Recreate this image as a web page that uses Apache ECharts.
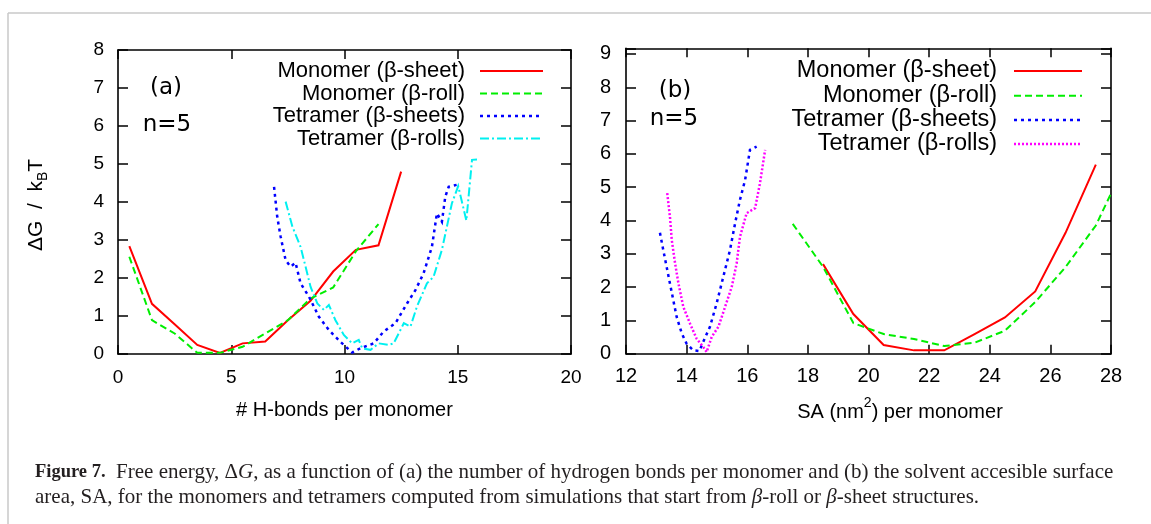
<!DOCTYPE html>
<html>
<head>
<meta charset="utf-8">
<script src="https://cdn.jsdelivr.net/npm/echarts@6/dist/echarts.min.js"></script>
<style>
html,body{margin:0;padding:0;background:#fff;}
#chart{width:1151px;height:524px;}
</style>
</head>
<body>
<div id="chart"></div>
<script>
// ---------- Data ----------
// Panel (a): Delta G vs # H-bonds per monomer
const aRedX   = [0.5, 1.5, 2.5, 3.5, 4.5, 5.5, 6.5, 7.5, 8.5, 9.5, 10.5, 11.5, 12.5];
const aRedY   = [2.84, 1.32, 0.78, 0.24, 0.03, 0.28, 0.33, 0.89, 1.40, 2.17, 2.74, 2.86, 4.80];
const aGreenX = [0.5, 1.5, 2.5, 3.5, 4.5, 5.5, 6.5, 7.5, 8.5, 9.5, 10.5, 11.5];
const aGreenY = [2.56, 0.89, 0.54, 0.03, 0.03, 0.19, 0.54, 0.89, 1.46, 1.75, 2.70, 3.42];
const aBlueX  = [6.89, 7.03, 7.18, 7.40, 7.62, 7.84, 8.06, 8.43, 8.87, 9.31, 9.82, 10.34, 10.70, 11.29, 11.73, 12.25, 12.76, 13.13, 13.49, 13.86, 14.08, 14.30, 14.45, 14.60, 14.95];
const aBlueY  = [4.40, 3.61, 3.09, 2.47, 2.30, 2.40, 1.86, 1.51, 0.98, 0.63, 0.32, 0.04, 0.15, 0.28, 0.59, 0.81, 1.33, 1.68, 2.12, 2.82, 3.70, 3.48, 4.14, 4.40, 4.45];
const aCyanX  = [7.40, 7.70, 8.06, 8.28, 8.50, 8.80, 9.09, 9.31, 9.60, 9.97, 10.34, 10.63, 10.78, 11.15, 11.51, 11.95, 12.17, 12.62, 12.91, 13.20, 13.64, 13.93, 14.30, 14.74, 15.02, 15.38, 15.63, 15.85];
const aCyanY  = [4.01, 3.35, 2.82, 2.30, 1.77, 1.33, 1.16, 1.29, 0.89, 0.50, 0.28, 0.37, 0.15, 0.11, 0.28, 0.24, 0.28, 0.81, 0.72, 1.25, 1.86, 2.03, 2.74, 3.96, 4.42, 3.51, 5.11, 5.12];

// Panel (b): Delta G vs SA per monomer
const bRedX   = [18.5, 19.5, 20.5, 21.5, 22.5, 23.5, 24.5, 25.5, 26.5, 27.5];
const bRedY   = [2.69, 1.19, 0.26, 0.10, 0.10, 0.59, 1.09, 1.87, 3.63, 5.68];
const bGreenX = [17.5, 18.5, 19.5, 20.5, 21.5, 22.5, 23.5, 24.5, 25.5, 26.5, 27.5, 28.0];
const bGreenY = [3.90, 2.61, 0.92, 0.59, 0.44, 0.23, 0.33, 0.69, 1.55, 2.60, 3.85, 4.81];
const bBlueX  = [13.12, 13.23, 13.34, 13.45, 13.56, 13.67, 13.84, 14.00, 14.22, 14.42, 14.55, 14.77, 14.99, 15.21, 15.43, 15.60, 15.76, 15.93, 16.09, 16.31];
const bBlueY  = [3.63, 3.11, 2.61, 2.11, 1.61, 1.11, 0.61, 0.30, 0.10, 0.08, 0.36, 0.81, 1.51, 2.31, 3.11, 3.92, 4.62, 5.22, 6.12, 6.22];
const bMagX   = [13.36, 13.45, 13.51, 13.62, 13.73, 13.89, 14.11, 14.33, 14.55, 14.66, 14.83, 15.05, 15.27, 15.49, 15.65, 15.76, 15.98, 16.26, 16.42, 16.59];
const bMagY   = [4.82, 4.11, 3.41, 2.71, 2.11, 1.41, 0.91, 0.45, 0.20, 0.05, 0.51, 0.81, 1.41, 2.01, 2.71, 3.51, 4.22, 4.37, 5.12, 6.12];

const legendA = ['Monomer (β-sheet)', 'Monomer (β-roll)', 'Tetramer (β-sheets)', 'Tetramer (β-rolls)'];
const legendB = ['Monomer (β-sheet)', 'Monomer (β-roll)', 'Tetramer (β-sheets)', 'Tetramer (β-rolls)'];
const aXTicks = {min: 0, max: 20, interval: 5};
const aYTicks = {min: 0, max: 8, interval: 1};
const bXTicks = {min: 12, max: 28, interval: 2};
const bYTicks = {min: 0, max: 9.17, interval: 1};

// ---------- Styles ----------
const RED = '#ff0000', GREEN = '#00ee00', BLUE = '#0000ff', CYAN = '#00f0f0', MAG = '#ff00ff';
const STY = [
  {color: RED, type: 'solid', width: 2},
  {color: GREEN, type: [7, 4], width: 2},
  {color: BLUE, type: [3, 4], width: 2.5},
  {color: CYAN, type: [9, 3, 2, 3], width: 2}
];
const STYB = [
  STY[0], STY[1], STY[2],
  {color: MAG, type: [2, 2], width: 2.5}
];
const SANS = '"Liberation Sans", Arial, sans-serif';
const DJ = '"DejaVu Sans", sans-serif';

function pairs(xs, ys) { return xs.map((x, i) => [x, ys[i]]); }
function intLabel(v) { return Math.abs(v - Math.round(v)) < 1e-6 ? String(Math.round(v)) : ''; }

function xAx(grid, t, pos, showLabel, fs, margin) {
  return {
    type: 'value', gridIndex: grid, position: pos, min: t.min, max: t.max, interval: t.interval,
    axisLine: {show: true, onZero: false, lineStyle: {color: '#000', width: 1.6}},
    axisTick: {show: true, inside: true, length: 9, lineStyle: {color: '#000', width: 1.5}},
    axisLabel: {show: showLabel, color: '#000', fontFamily: SANS, fontSize: fs, margin: margin, formatter: intLabel},
    splitLine: {show: false}
  };
}
function yAx(grid, t, pos, showLabel, fs, margin) {
  return {
    type: 'value', gridIndex: grid, position: pos, min: t.min, max: t.max, interval: t.interval,
    axisLine: {show: true, onZero: false, lineStyle: {color: '#000', width: 1.6}},
    axisTick: {show: true, inside: true, length: 10, lineStyle: {color: '#000', width: 1.5}},
    axisLabel: {show: showLabel, color: '#000', fontFamily: SANS, fontSize: fs, margin: margin, formatter: intLabel},
    splitLine: {show: false}
  };
}

const xAxes = [
  Object.assign(xAx(0, aXTicks, 'bottom', true, 19, 14), {name: '# H-bonds per monomer', nameLocation: 'middle', nameGap: 46, nameTextStyle: {color: '#000', fontFamily: SANS, fontSize: 20}}),
  xAx(0, aXTicks, 'top', false, 19, 8),
  xAx(1, bXTicks, 'bottom', true, 20, 13),
  xAx(1, bXTicks, 'top', false, 20, 8)
];
const yAxes = [
  yAx(0, aYTicks, 'left', true, 19, 14),
  yAx(0, aYTicks, 'right', false, 19, 8),
  yAx(1, bYTicks, 'left', true, 20, 15),
  yAx(1, bYTicks, 'right', false, 20, 8)
];

function line(name, xs, ys, sty, xi, yi) {
  return {
    name: name, type: 'line', xAxisIndex: xi, yAxisIndex: yi, data: pairs(xs, ys),
    showSymbol: false, symbol: 'none', silent: true, animation: false, clip: true,
    lineStyle: {color: sty.color, type: sty.type, width: sty.width, cap: 'butt', join: 'miter'}
  };
}

const series = [
  line(legendA[0], aRedX, aRedY, STY[0], 0, 0),
  line(legendA[1], aGreenX, aGreenY, STY[1], 0, 0),
  line(legendA[2], aBlueX, aBlueY, STY[2], 0, 0),
  line(legendA[3], aCyanX, aCyanY, STY[3], 0, 0),
  line(legendB[0], bRedX, bRedY, STYB[0], 2, 2),
  line(legendB[1], bGreenX, bGreenY, STYB[1], 2, 2),
  line(legendB[2], bBlueX, bBlueY, STYB[2], 2, 2),
  line(legendB[3], bMagX, bMagY, STYB[3], 2, 2)
];

// ---------- Decorations: legends, annotations, caption ----------
const g = [];
// outer light frame
g.push({type: 'line', shape: {x1: 8, y1: 13, x2: 1151, y2: 13}, style: {stroke: '#c8c8c8', lineWidth: 1.5}});
g.push({type: 'line', shape: {x1: 8, y1: 13, x2: 8, y2: 524}, style: {stroke: '#c8c8c8', lineWidth: 1.5}});

function legend(labels, styles, textRight, rows, sx1, sx2, fs) {
  labels.forEach((t, i) => {
    g.push({type: 'text', x: textRight, y: rows[i], style: {text: t, align: 'right', verticalAlign: 'middle', fill: '#000', font: fs + 'px ' + SANS}});
    g.push({type: 'line', shape: {x1: sx1, y1: rows[i], x2: sx2, y2: rows[i]},
      style: {stroke: styles[i].color, lineWidth: styles[i].width, lineDash: styles[i].type === 'solid' ? null : styles[i].type}});
  });
}
legend(legendA, STY, 465, [71, 93.5, 116, 138.5], 480, 543, 22);
legend(legendB, STYB, 997, [71, 95.7, 120, 144], 1014, 1082, 23.5);

function txt(s, x, y, fs, fam) {
  g.push({type: 'text', x: x, y: y, style: {text: s, align: 'center', verticalAlign: 'middle', fill: '#000', font: fs + 'px ' + fam}});
}
txt('(a)', 166, 88, 23, DJ);
txt('n=5', 167, 125, 23, DJ);
txt('(b)', 675, 91, 23, DJ);
txt('n=5', 674, 119, 23, DJ);

// x-axis name for panel (b), with a raised superscript
g.push({type: 'text', x: 900, y: 409, style: {
  text: '{n|SA (nm}{p|2}{n|) per monomer}', align: 'center', verticalAlign: 'middle', fill: '#000',
  rich: {n: {fontSize: 20, fontFamily: SANS, fill: '#000', padding: [7, 0, 0, 0]}, p: {fontSize: 14, fontFamily: SANS, fill: '#000', padding: [0, 0, 12, 0]}}}});

// y-axis name (rotated) for panel (a)
g.push({type: 'text', x: 36, y: 205, rotation: Math.PI / 2,
  style: {text: '{n|ΔG  /  k}{s|B}{n|T}', align: 'center', verticalAlign: 'middle', fill: '#000',
    rich: {n: {fontSize: 21, fontFamily: SANS, fill: '#000'}, s: {fontSize: 14, fontFamily: SANS, padding: [15, 0, 0, 0], fill: '#000'}}}});

// caption
const SERIF = '"Liberation Serif", "DejaVu Serif", serif';
const capRich = {
  b: {fontSize: 18.5, fontFamily: SERIF, fontWeight: 'bold', fill: '#231f20'},
  r: {fontSize: 21, fontFamily: SERIF, fill: '#231f20'},
  i: {fontSize: 21, fontFamily: SERIF, fontStyle: 'italic', fill: '#231f20'}
};
g.push({type: 'text', x: 35, y: 472, style: {
  text: '{b|Figure 7.}{r|  Free energy, Δ}{i|G}{r|, as a function of (a) the number of hydrogen bonds per monomer and (b) the solvent accesible surface}',
  align: 'left', verticalAlign: 'middle', rich: capRich}});
g.push({type: 'text', x: 35, y: 497, style: {
  text: '{r|area, SA, for the monomers and tetramers computed from simulations that start from }{i|β}{r|-roll or }{i|β}{r|-sheet structures.}',
  align: 'left', verticalAlign: 'middle', rich: capRich}});

const option = {
  animation: false,
  backgroundColor: '#fff',
  grid: [
    {left: 118, top: 50, width: 453, height: 304},
    {left: 626, top: 48.3, width: 485, height: 305.4}
  ],
  xAxis: xAxes,
  yAxis: yAxes,
  series: series,
  graphic: g
};

const chart = echarts.init(document.getElementById('chart'), null, {renderer: 'canvas'});
chart.setOption(option);
</script>
</body>
</html>
